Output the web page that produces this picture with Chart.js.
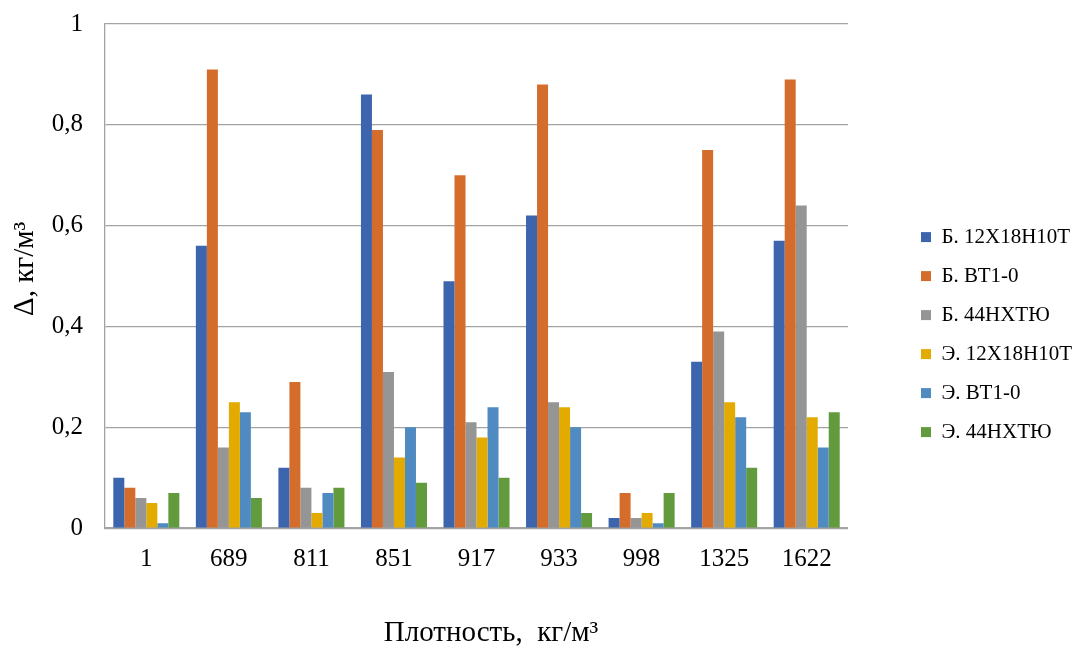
<!DOCTYPE html>
<html>
<head>
<meta charset="utf-8">
<script src="https://cdn.jsdelivr.net/npm/chart.js@4"></script>
<style>
    html, body { margin: 0; padding: 0; background: #ffffff; }
    #wrap { width: 1077px; height: 647px; }
</style>
</head>
<body>
<div id="wrap"><canvas id="chart_delta"></canvas></div>
<script>
// плотности (ось x)
var categories = ['1', '689', '811', '851', '917', '933', '998', '1325', '1622'];

var seriesNames = ['Б. 12Х18Н10Т', 'Б. ВТ1-0', 'Б. 44НХТЮ', 'Э. 12Х18Н10Т', 'Э. ВТ1-0', 'Э. 44НХТЮ'];

var b12x18 = [0.10, 0.56, 0.12, 0.86, 0.49, 0.62, 0.02, 0.33, 0.57];
var bVT10  = [0.08, 0.91, 0.29, 0.79, 0.70, 0.88, 0.07, 0.75, 0.89];
var b44nh  = [0.06, 0.16, 0.08, 0.31, 0.21, 0.25, 0.02, 0.39, 0.64];
var e12x18 = [0.05, 0.25, 0.03, 0.14, 0.18, 0.24, 0.03, 0.25, 0.22];
var eVT10  = [0.01, 0.23, 0.07, 0.20, 0.24, 0.20, 0.01, 0.22, 0.16];
var e44nh  = [0.07, 0.06, 0.08, 0.09, 0.10, 0.03, 0.07, 0.12, 0.23];

var yTicks = [0, 0.2, 0.4, 0.6, 0.8, 1];

var colors = ['#3d65ae', '#d46d2b', '#959595', '#e3ab00', '#4f8bc0', '#629a3e'];
var seriesData = [b12x18, bVT10, b44nh, e12x18, eVT10, e44nh];

var serif = '"Liberation Serif", "Times New Roman", serif';
var gridColor = '#a3a3a3';

var datasets = seriesData.map(function(d, i) {
    return {
        label: seriesNames[i],
        data: d,
        backgroundColor: colors[i],
        borderWidth: 0,
        categoryPercentage: 0.8,
        barPercentage: 1.0
    };
});

var ctx = document.getElementById('chart_delta');

new Chart(ctx, {
    type: 'bar',
    data: {
        labels: categories,
        datasets: datasets
    },
    options: {
        responsive: true,
        maintainAspectRatio: false,
        animation: false,
        layout: {
            padding: { top: 11, bottom: 0, left: 0, right: -5 }
        },
        plugins: {
            tooltip: { enabled: false },
            legend: {
                position: 'right',
                // пустой заголовок только сдвигает легенду вниз
                title: {
                    display: true,
                    text: '',
                    font: { size: 1 },
                    padding: { top: 5, bottom: 5 }
                },
                labels: {
                    color: '#000000',
                    font: { family: serif, size: 21 },
                    boxWidth: 10,
                    boxHeight: 10,
                    padding: 18
                }
            }
        },
        scales: {
            x: {
                grid: { display: false, drawTicks: false },
                border: { display: true, color: gridColor, width: 1.5 },
                ticks: {
                    color: '#000000',
                    font: { family: serif, size: 25 },
                    padding: 16,
                    maxRotation: 0
                },
                title: {
                    display: true,
                    text: '    Плотность,  кг/м³',
                    color: '#000000',
                    font: { family: serif, size: 29, weight: 'normal' },
                    padding: { top: 26, bottom: -4 }
                }
            },
            y: {
                min: 0,
                max: 1,
                afterBuildTicks: function(scale) {
                    scale.ticks = yTicks.map(function(v) { return { value: v }; });
                },
                grid: {
                    color: gridColor,
                    lineWidth: 1.3,
                    drawTicks: true,
                    tickLength: 13,
                    tickColor: 'rgba(0,0,0,0)'
                },
                border: { display: true, color: gridColor, width: 1.3 },
                ticks: {
                    color: '#000000',
                    font: { family: serif, size: 25 },
                    padding: 9,
                    callback: function(value) {
                        return String(Math.round(value * 10) / 10).replace('.', ',');
                    }
                },
                title: {
                    display: true,
                    text: '  Δ, кг/м³',
                    color: '#000000',
                    font: { family: serif, size: 29, weight: 'normal' },
                    padding: { top: 8, bottom: 0 }
                }
            },
            // пустая ось справа - отступ между графиком и легендой
            gap: {
                type: 'linear',
                position: 'right',
                display: true,
                grid: { display: false, drawTicks: false },
                border: { display: false },
                ticks: { display: false },
                afterFit: function(scale) {
                    scale.width = 55;
                }
            }
        }
    }
});
</script>
</body>
</html>
